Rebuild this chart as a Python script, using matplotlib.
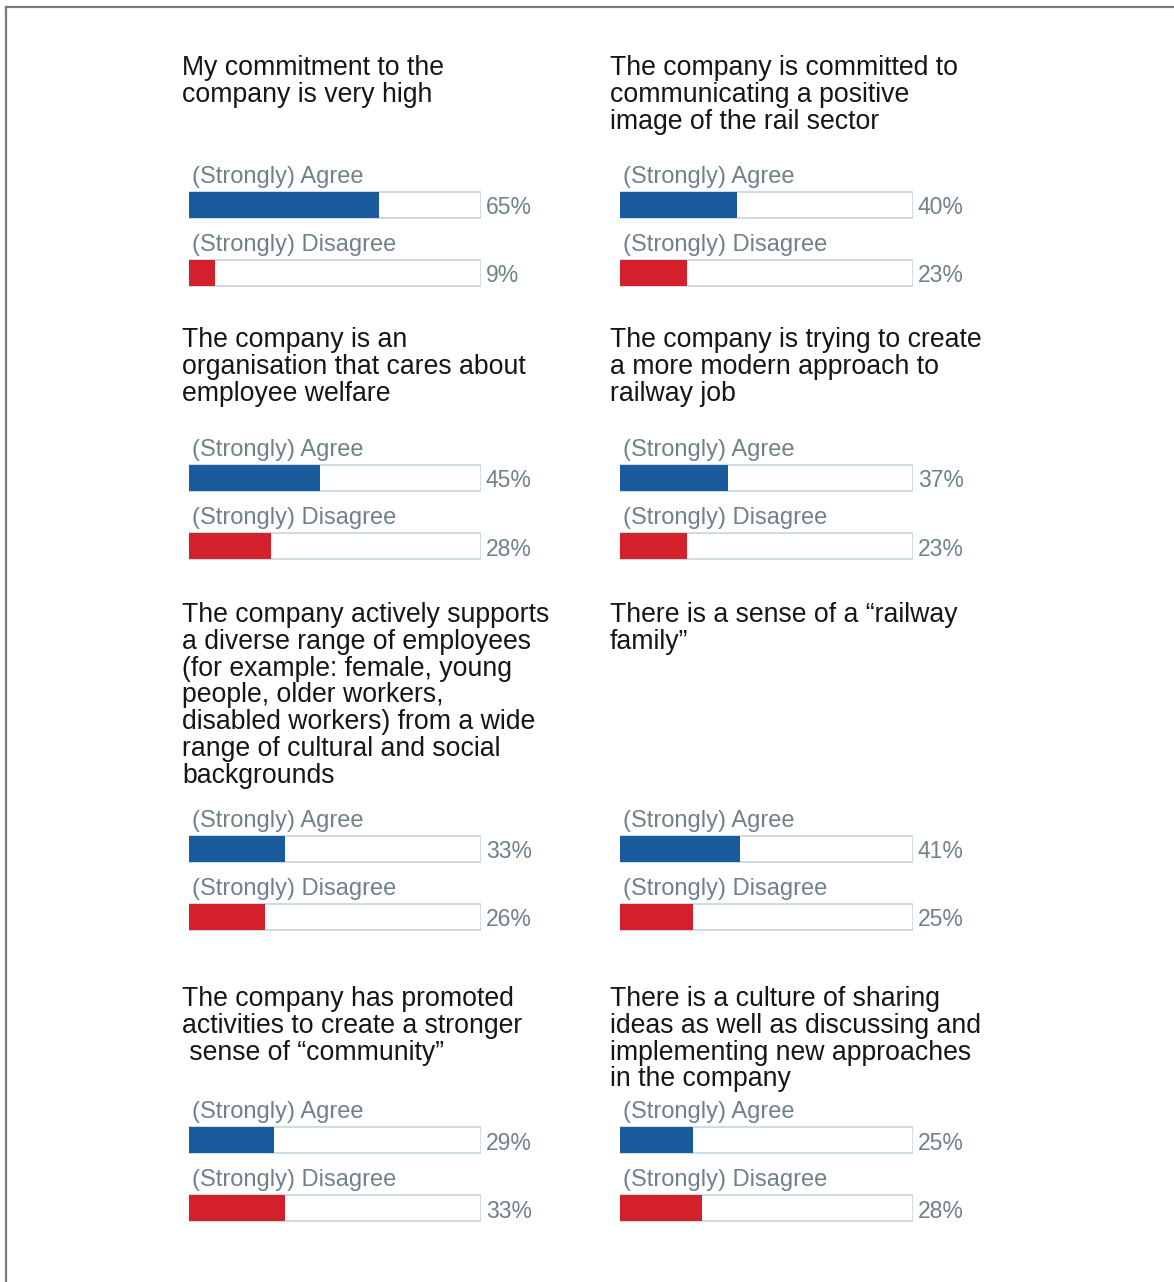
import matplotlib
matplotlib.use("Agg")
import matplotlib.pyplot as plt
from matplotlib.lines import Line2D

# survey statements, row-major (left column, right column)
titles = [
    "My commitment to the\ncompany is very high",
    "The company is committed to\ncommunicating a positive\nimage of the rail sector",
    "The company is an\norganisation that cares about\nemployee welfare",
    "The company is trying to create\na more modern approach to\nrailway job",
    "The company actively supports\na diverse range of employees\n(for example: female, young\n"
    "people, older workers,\ndisabled workers) from a wide\nrange of cultural and social\nbackgrounds",
    "There is a sense of a \u201crailway\nfamily\u201d",
    "The company has promoted\nactivities to create a stronger\n sense of \u201ccommunity\u201d",
    "There is a culture of sharing\nideas as well as discussing and\nimplementing new approaches\nin the company",
]
agree = [65, 40, 45, 37, 33, 41, 29, 25]
disagree = [9, 23, 28, 23, 26, 25, 33, 28]
bar_labels = ["(Strongly) Agree", "(Strongly) Disagree"]

W, H = 1174, 1282
BLUE = "#1a5b9e"
RED = "#d4202a"
GRAY = "#6f8189"
EDGE = "#c3d6e0"
FONT = "Liberation Sans"

fig = plt.figure(figsize=(W / 100, H / 100), dpi=100)

# frame lines (top and left only)
fig.add_artist(Line2D([6 / W, 1], [1 - 7 / H, 1 - 7 / H], color="#7a7a7a", lw=1.6))
fig.add_artist(Line2D([6 / W, 6 / W], [1 - 7 / H, 0], color="#7a7a7a", lw=1.6))

col_bar_x = [189, 620]
col_bar_w = [292, 293]
col_title_x = [182, 610]
row_bar_y = [205, 478, 849, 1140]       # centre of the agree bar (px from top)
row_title_y = [75, 347, 622, 1006]     # baseline of first title line
STEP = 68                               # px between agree / disagree bars
LINE = 26.8                             # title line spacing in px

for i, title in enumerate(titles):
    r, c = divmod(i, 2)
    x0, bw = col_bar_x[c], col_bar_w[c]
    yc = row_bar_y[r]

    # title, one line at a time
    for k, line in enumerate(title.split("\n")):
        yb = row_title_y[r] + k * LINE
        fig.text(col_title_x[c] / W, 1 - yb / H, line, fontsize=19.2,
                 family=FONT, color="#161616", va="baseline", ha="left")

    top = yc - 50
    bot = yc + STEP + 20
    ax = fig.add_axes([x0 / W, 1 - bot / H, bw / W, (bot - top) / H])
    ax.set_xlim(0, 100)
    ax.set_ylim(1 + 20 / STEP, -50 / STEP)
    ax.axis("off")

    ypos = [0, 1]
    vals = [agree[i], disagree[i]]
    h = 26 / STEP
    ax.barh(ypos, [100, 100], height=h, color="white", edgecolor=EDGE, linewidth=1.2)
    ax.barh(ypos, vals, height=h, color=[BLUE, RED], edgecolor="none")

    for y, v, lab in zip(ypos, vals, bar_labels):
        ax.text(1.0, y - 22 / STEP, lab, fontsize=17, family=FONT, color=GRAY,
                va="baseline", ha="left")
        ax.text(101.7, y + 3 / STEP, f"{v}%", fontsize=16.5, family=FONT, color=GRAY,
                va="center", ha="left", clip_on=False)

fig.savefig("out.png", dpi=100, facecolor="white")
